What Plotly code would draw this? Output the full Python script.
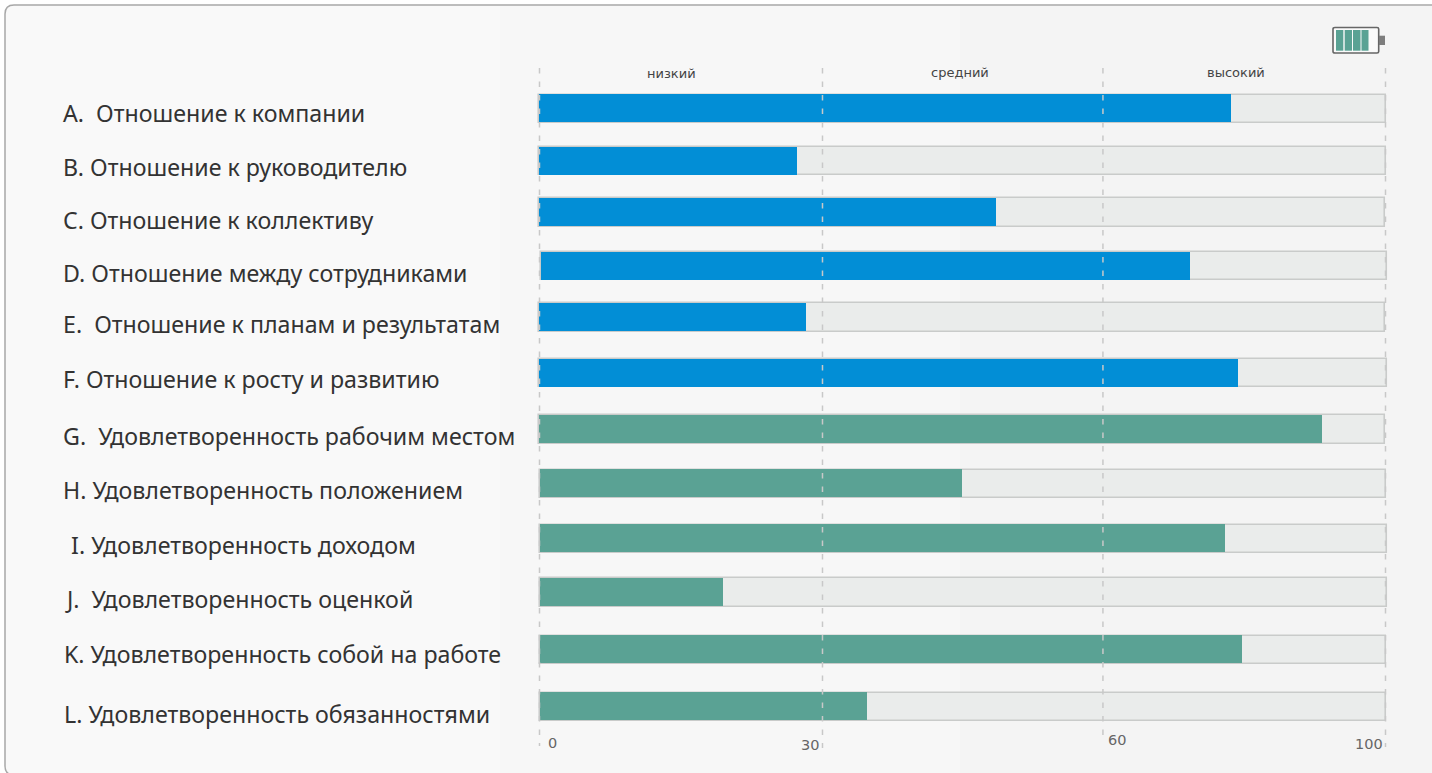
import plotly.graph_objects as go

# ---- data ----
categories = [
    "A.  Отношение к компании",
    "B. Отношение к руководителю",
    "C. Отношение к коллективу",
    "D. Отношение между сотрудниками",
    "E.  Отношение к планам и результатам",
    "F. Отношение к росту и развитию",
    "G.  Удовлетворенность рабочим местом",
    "H. Удовлетворенность положением",
    " I. Удовлетворенность доходом",
    "J.  Удовлетворенность оценкой",
    "K. Удовлетворенность собой на работе",
    "L. Удовлетворенность обязанностями",
]
attitude_values = [81.7, 30.4, 54.0, 76.9, 31.5, 82.6]
satisfaction_values = [92.5, 50.0, 81.0, 21.7, 83.0, 38.7]
zone_labels = ["низкий", "средний", "высокий"]
tick_labels = ["0", "30", "60", "100"]

# ---- layout constants (not data) ----
W, H = 1432, 773
X0, X1 = 539.5, 1385.5        # pixel span of the scale 0..100
PAD = 1                       # scale units of slack on both sides, so end borders are not clipped
Y_TOP, Y_BOT = 68, 738        # pixel span of the plot area
ROW = 54.36                   # row pitch in px
tick_pos = [0, 33.45, 66.6, 100]
line_end = [746, 748, 742, 747]
row_nudge = [0, -.04, -.10, -.11, -.16, -.14, -.10, -.10, -.09, -.11, -.05, 0]
label_nudge = [4, 6, 8, 7, 6, 6, 6, 6, 6, 7, 4, 7]
label_x = [61, 61, 61, 61, 61, 60.5, 60.5, 61, 63, 63, 61.5, 62]
row_start = [-.05, -.05, -.05, .15, -.05, -.05, -.05, .05, .05, .05, .05, .05]
row_end = [100.05, 100.05, 100, 100.15, 100, 100.15, 100, 100.05, 100.15, 100.15, 100.05, 100.05]
tick_shift = [(13, -4), (-12, -6), (14, -1), (-17, -5)]
zone_x = [(0 + 33.45) / 2, (33.45 + 66.6) / 2, (66.6 + 100) / 2]
zone_shift = [(-9, 0), (-3, 1), (-8, 1)]
BLUE, GREEN, TRACK, EDGE = "#028ed6", "#5aa294", "#eaeceb", "#c9cbca"
LABEL_FONT = "Noto Sans"
SMALL_FONT = "DejaVu Sans"


def px(x):
    return x / W


def py(y):
    return 1 - y / H


rows = list(range(len(categories)))
row_y = [r + n for r, n in zip(rows, row_nudge)]
values = attitude_values + satisfaction_values
colors = [BLUE] * len(attitude_values) + [GREEN] * len(satisfaction_values)

first_center = 109
y_lo = (Y_TOP - first_center) / ROW
y_hi = (Y_BOT - first_center) / ROW
unit = (X1 - X0) / 100

fig = go.Figure()
fig.add_bar(y=row_y, base=row_start, x=[e - s for s, e in zip(row_start, row_end)],
            orientation="h", width=28.5 / ROW,
            marker=dict(color=TRACK, line=dict(color=EDGE, width=1.6)),
            hoverinfo="skip", showlegend=False)
fig.add_bar(y=row_y, base=row_start, x=[v - s for v, s in zip(values, row_start)],
            orientation="h", width=28 / ROW, offset=-14.6 / ROW,
            marker=dict(color=colors, line=dict(width=0)),
            text=categories, hoverinfo="text+x", showlegend=False,
            textposition="none")

shapes = []
# page card and subtle background bands
bands = [(500, "#f9f9f9"), (960, "#f7f7f7"), (1432, "#f4f4f4")]
left = 6
shapes.append(dict(type="path", xref="paper", yref="paper", layer="below",
                   path=f"M {px(5)} {py(766)} Q {px(5)} {py(775)} {px(14)} {py(775)} L {px(1434)} {py(775)} "
                        f"L {px(1434)} {py(5)} L {px(14)} {py(5)} Q {px(5)} {py(5)} {px(5)} {py(14)} Z",
                   line=dict(color="#a8a8a8", width=1.5), fillcolor="#f9f9f9"))
for right, col in bands:
    shapes.append(dict(type="rect", xref="paper", yref="paper", layer="below",
                       x0=px(max(left + 1, 14) if left == 6 else left), x1=px(right), y0=py(773), y1=py(6),
                       line=dict(width=0), fillcolor=col))
    left = right
# dashed scale lines
for t, end in zip(tick_pos, line_end):
    shapes.append(dict(type="line", xref="x", yref="paper", x0=t, x1=t,
                       y0=py(Y_TOP), y1=py(end), layer="above",
                       line=dict(color="#c8c8c8", width=1.5, dash="5.5px,8px")))
# battery icon
shapes.append(dict(type="path", xref="paper", yref="paper",
                   path=f"M {px(1335)} {py(27.5)} L {px(1377)} {py(27.5)} Q {px(1378.7)} {py(27.5)} {px(1378.7)} {py(29)} "
                        f"L {px(1378.7)} {py(51.5)} Q {px(1378.7)} {py(53)} {px(1377)} {py(53)} "
                        f"L {px(1335)} {py(53)} Q {px(1333)} {py(53)} {px(1333)} {py(51.5)} "
                        f"L {px(1333)} {py(29)} Q {px(1333)} {py(27.5)} {px(1335)} {py(27.5)} Z",
                   line=dict(color="#666666", width=1.6), fillcolor="#fafafa"))
shapes.append(dict(type="rect", xref="paper", yref="paper", x0=px(1379), x1=px(1385),
                   y0=py(45), y1=py(35.7), line=dict(width=0), fillcolor="#7d7d7d"))
for sx0, sx1 in ((1336, 1343.3), (1344.7, 1352), (1353, 1360.5), (1361.5, 1368.5)):
    shapes.append(dict(type="rect", xref="paper", yref="paper", x0=px(sx0), x1=px(sx1),
                       y0=py(50.7), y1=py(30), line=dict(width=0), fillcolor=GREEN))

annotations = []
for cat, c, nudge, lx in zip(categories, row_y, label_nudge, label_x):
    annotations.append(dict(text=cat.replace("  ", "&nbsp;&nbsp;").replace(" I.", "&nbsp;I."),
                            xref="paper", yref="y", x=px(lx), y=c, yshift=-nudge,
                            xanchor="left", yanchor="middle", showarrow=False,
                            font=dict(family=LABEL_FONT, size=23.2, color="#333333")))
for lab, x, (dx, dy) in zip(zone_labels, zone_x, zone_shift):
    annotations.append(dict(text=lab, xref="x", yref="paper", x=x, y=py(74), xshift=dx, yshift=dy,
                            xanchor="center", yanchor="middle", showarrow=False,
                            font=dict(family=SMALL_FONT, size=13, color="#444444")))
for lab, x, (dx, dy) in zip(tick_labels, tick_pos, tick_shift):
    annotations.append(dict(text=lab, xref="x", yref="paper", x=x, y=py(739), xshift=dx, yshift=dy,
                            xanchor="center", yanchor="middle", showarrow=False,
                            font=dict(family=SMALL_FONT, size=14.5, color="#666666")))

fig.update_layout(
    width=W, height=H, autosize=False,
    margin=dict(l=0, r=0, t=0, b=0),
    paper_bgcolor="#ffffff", plot_bgcolor="rgba(0,0,0,0)",
    barmode="overlay", bargap=0,
    xaxis=dict(domain=[px(X0 - PAD * unit), px(X1 + PAD * unit)], range=[-PAD, 100 + PAD],
               visible=False, fixedrange=True),
    yaxis=dict(domain=[py(Y_BOT), py(Y_TOP)], range=[y_hi, y_lo], visible=False, fixedrange=True),
    shapes=shapes, annotations=annotations,
)
fig.write_html("out.html", config=dict(displayModeBar=False),
               post_script="document.body.style.margin='0';document.body.style.overflow='hidden';")
